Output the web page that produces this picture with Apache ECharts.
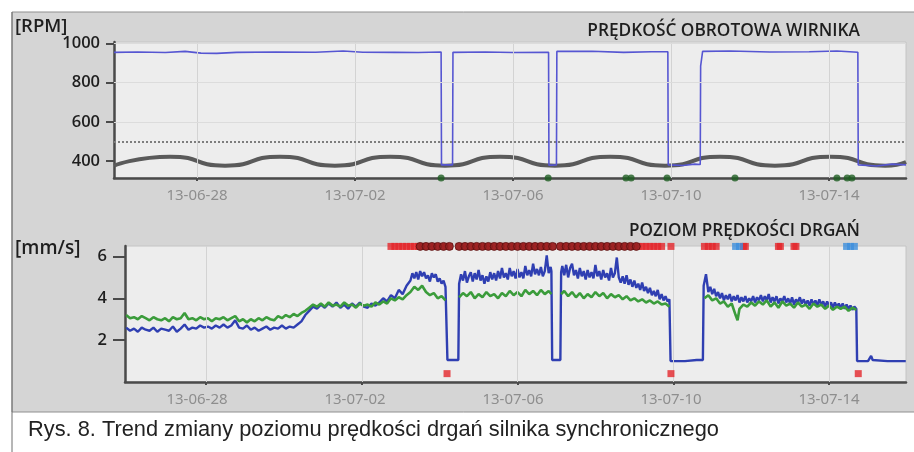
<!DOCTYPE html>
<html><head><meta charset="utf-8">
<script src="https://cdn.jsdelivr.net/npm/echarts@6/dist/echarts.min.js"></script>
<style>html,body{margin:0;padding:0;background:#fff}#c{width:914px;height:452px}</style>
</head><body><div id="c"></div>
<script>
// ---- data (x = days since 2013-06-28 00:00) ----
const xTickDays = [0, 4, 8, 12, 16];
const xTickLabels = ['13-06-28', '13-07-02', '13-07-06', '13-07-10', '13-07-14'];
const rpmTicks = [400, 600, 800, 1000];
const vibTicks = [2, 4, 6];
const rpmThreshold = 500;
const rpmSpeed = [[-2.10,955],[-1.5,957],[-0.8,954],[-0.3,960],[0.1,951],[0.5,950],[1.0,955],[2.0,957],[3.0,956],[3.7,962],[4.2,956],[5.0,955],[5.6,954],[6.18,957],[6.19,380],[6.47,380],[6.48,955],[7.3,957],[8.0,954],[8.9,956],[8.91,378],[9.1,380],[9.11,960],[10.0,961],[10.8,955],[11.5,958],[11.92,958],[11.93,380],[12.3,377],[12.6,384],[12.74,382],[12.75,885],[12.79,890],[12.8,960],[13.5,962],[14.5,957],[15.5,958],[16.2,962],[16.73,956],[16.74,380],[17.2,374],[17.6,384],[17.95,380]];
const rpmBreakWave = [[-2.10,376],[-0.68,422],[0.71,376],[2.10,422],[3.49,376],[4.89,422],[6.28,376],[7.67,422],[9.06,376],[10.46,422],[11.85,376],[13.24,422],[14.63,376],[16.03,422],[17.42,376],[17.95,395]];
const rpmEvents = [6.18, 8.89, 10.86, 10.99, 11.90, 13.62, 16.2, 16.46, 16.58];
const vibBlue = [[-2.05,2.6],[-1.95,2.45],[-1.85,2.55],[-1.75,2.4],[-1.65,2.6],[-1.55,2.5],[-1.45,2.45],[-1.35,2.6],[-1.25,2.4],[-1.15,2.55],[-1.05,2.5],[-0.95,2.45],[-0.85,2.65],[-0.75,2.4],[-0.65,2.55],[-0.55,2.75],[-0.45,2.5],[-0.35,2.6],[-0.25,2.55],[-0.15,2.7],[-0.05,2.6],[0.05,2.65],[0.15,2.55],[0.25,2.7],[0.35,2.6],[0.45,2.75],[0.55,2.6],[0.65,2.7],[0.75,2.95],[0.85,2.6],[0.95,2.55],[1.05,2.7],[1.15,2.5],[1.25,2.6],[1.35,2.45],[1.45,2.55],[1.55,2.65],[1.65,2.5],[1.75,2.6],[1.85,2.55],[1.95,2.7],[2.05,2.55],[2.15,2.65],[2.25,2.6],[2.35,2.75],[2.45,2.9],[2.55,3.2],[2.65,3.4],[2.75,3.6],[2.85,3.5],[2.95,3.7],[3.05,3.55],[3.15,3.75],[3.25,3.6],[3.35,3.8],[3.45,3.55],[3.55,3.7],[3.65,3.5],[3.75,3.75],[3.85,3.6],[3.95,3.8],[4.05,3.6],[4.15,3.55],[4.25,3.75],[4.35,3.65],[4.45,3.8],[4.55,4.0],[4.65,3.85],[4.75,4.15],[4.85,4.0],[4.95,4.4],[5.05,4.2],[5.15,4.6],[5.25,4.85],[5.3,5.2],[5.35,4.95],[5.4,5.25],[5.45,4.9],[5.5,5.3],[5.55,5.05],[5.6,5.25],[5.65,4.95],[5.7,5.1],[5.75,4.8],[5.8,5.2],[5.85,5.0],[5.9,5.15],[5.95,4.8],[6.0,4.95],[6.05,4.7],[6.1,4.85],[6.15,4.55],[6.19,4.5],[6.2,1.05],[6.48,1.05],[6.5,4.7],[6.55,5.15],[6.6,4.85],[6.65,5.3],[6.7,4.75],[6.75,5.05],[6.8,5.25],[6.85,4.8],[6.9,5.2],[6.95,4.9],[7.0,5.35],[7.05,4.85],[7.1,5.1],[7.15,4.7],[7.2,5.05],[7.25,4.8],[7.3,5.25],[7.35,4.9],[7.4,5.2],[7.45,4.85],[7.5,5.3],[7.55,4.95],[7.6,5.45],[7.65,5.0],[7.7,5.2],[7.75,4.9],[7.8,5.45],[7.85,5.05],[7.9,5.3],[7.95,4.95],[8.0,5.4],[8.05,5.0],[8.1,5.25],[8.15,4.95],[8.2,5.55],[8.25,5.1],[8.3,5.35],[8.35,5.05],[8.4,5.65],[8.45,5.15],[8.5,5.4],[8.55,5.1],[8.6,5.5],[8.65,5.05],[8.7,5.3],[8.75,6.05],[8.8,5.2],[8.85,5.5],[8.87,5.3],[8.89,1.05],[9.1,1.05],[9.12,5.25],[9.15,5.55],[9.2,5.1],[9.25,5.6],[9.3,5.0],[9.35,5.45],[9.4,5.65],[9.45,5.1],[9.5,5.35],[9.55,4.95],[9.6,5.45],[9.65,5.05],[9.7,5.3],[9.75,4.9],[9.8,5.35],[9.85,5.0],[9.9,5.25],[9.95,4.95],[10.0,5.6],[10.05,5.05],[10.1,5.3],[10.15,4.9],[10.2,5.35],[10.25,5.0],[10.3,5.2],[10.35,4.85],[10.4,5.45],[10.45,5.0],[10.5,5.2],[10.55,5.95],[10.6,5.0],[10.65,4.75],[10.7,5.05],[10.75,4.7],[10.8,5.1],[10.85,4.65],[10.9,4.9],[10.95,4.55],[11.0,4.85],[11.05,4.5],[11.1,4.7],[11.15,4.4],[11.2,4.75],[11.25,4.35],[11.3,4.55],[11.35,4.25],[11.4,4.5],[11.45,4.15],[11.5,4.35],[11.55,4.1],[11.6,4.4],[11.65,3.95],[11.7,4.2],[11.75,3.9],[11.8,4.1],[11.85,3.85],[11.9,3.95],[11.93,1.0],[12.3,1.0],[12.6,1.05],[12.76,1.05],[12.78,4.6],[12.84,5.15],[12.9,4.3],[12.95,4.55],[13.0,4.2],[13.05,4.45],[13.1,4.1],[13.15,4.3],[13.2,4.0],[13.25,4.25],[13.3,3.9],[13.35,4.15],[13.4,3.95],[13.45,4.2],[13.5,3.85],[13.55,4.1],[13.6,3.9],[13.65,4.15],[13.7,3.8],[13.75,4.05],[13.8,3.85],[13.85,4.1],[13.9,3.8],[13.95,4.0],[14.0,3.85],[14.05,4.1],[14.1,3.8],[14.15,4.05],[14.2,3.9],[14.25,4.15],[14.3,3.85],[14.35,4.1],[14.4,3.9],[14.45,4.2],[14.5,3.8],[14.55,4.05],[14.6,3.85],[14.65,4.1],[14.7,3.75],[14.75,4.0],[14.8,3.85],[14.85,4.1],[14.9,3.8],[14.95,4.0],[15.0,3.75],[15.05,4.05],[15.1,3.7],[15.15,3.95],[15.2,3.8],[15.25,4.05],[15.3,3.75],[15.35,3.95],[15.4,3.7],[15.45,3.9],[15.5,3.65],[15.55,3.95],[15.6,3.7],[15.65,3.9],[15.7,3.65],[15.75,3.95],[15.8,3.7],[15.85,3.85],[15.9,3.6],[15.95,3.85],[16.0,3.65],[16.05,3.8],[16.1,3.55],[16.15,3.8],[16.2,3.6],[16.25,3.75],[16.3,3.55],[16.35,3.75],[16.4,3.5],[16.45,3.7],[16.5,3.5],[16.55,3.65],[16.6,3.45],[16.65,3.6],[16.7,3.5],[16.72,1.0],[17.0,1.0],[17.08,1.25],[17.12,1.05],[17.5,1.0],[17.97,1.0]];
const vibGreen = [[-2.05,3.2],[-1.95,3.05],[-1.85,3.1],[-1.75,3.0],[-1.65,3.15],[-1.55,3.05],[-1.45,2.95],[-1.35,3.1],[-1.25,3.0],[-1.15,2.95],[-1.05,3.05],[-0.95,2.9],[-0.85,3.1],[-0.75,3.0],[-0.65,3.05],[-0.55,3.3],[-0.45,3.0],[-0.35,3.05],[-0.25,2.95],[-0.15,3.1],[-0.05,3.0],[0.05,3.05],[0.15,2.9],[0.25,3.05],[0.35,3.0],[0.45,3.1],[0.55,2.95],[0.65,3.05],[0.75,3.15],[0.85,2.9],[0.95,3.0],[1.05,2.85],[1.15,3.0],[1.25,2.9],[1.35,3.05],[1.45,2.95],[1.55,3.1],[1.65,3.0],[1.75,2.95],[1.85,3.15],[1.95,3.05],[2.05,3.2],[2.15,3.1],[2.25,3.25],[2.35,3.15],[2.45,3.3],[2.55,3.4],[2.65,3.55],[2.75,3.7],[2.85,3.6],[2.95,3.75],[3.05,3.6],[3.15,3.8],[3.25,3.65],[3.35,3.7],[3.45,3.6],[3.55,3.8],[3.65,3.65],[3.75,3.7],[3.85,3.55],[3.95,3.75],[4.05,3.65],[4.15,3.7],[4.25,3.6],[4.35,3.8],[4.45,3.7],[4.55,3.85],[4.65,3.75],[4.75,4.0],[4.85,3.9],[4.95,4.05],[5.05,3.95],[5.15,4.15],[5.25,4.3],[5.35,4.55],[5.45,4.4],[5.55,4.6],[5.65,4.3],[5.75,4.15],[5.85,4.25],[5.95,4.0],[6.05,4.1],[6.15,3.9],[6.17,null],[6.5,4.05],[6.6,4.25],[6.7,4.1],[6.8,4.3],[6.9,4.0],[7.0,4.2],[7.1,4.05],[7.2,4.3],[7.3,4.1],[7.4,4.2],[7.5,4.0],[7.6,4.25],[7.7,4.1],[7.8,4.35],[7.9,4.15],[8.0,4.3],[8.1,4.1],[8.2,4.4],[8.3,4.2],[8.4,4.35],[8.5,4.15],[8.6,4.4],[8.7,4.2],[8.8,4.35],[8.87,4.2],[8.9,null],[9.12,4.2],[9.2,4.35],[9.3,4.1],[9.4,4.3],[9.5,4.05],[9.6,4.25],[9.7,4.0],[9.8,4.2],[9.9,4.05],[10.0,4.3],[10.1,4.1],[10.2,4.25],[10.3,4.0],[10.4,4.2],[10.5,4.05],[10.6,4.15],[10.7,3.95],[10.8,4.1],[10.9,3.9],[11.0,4.0],[11.1,3.85],[11.2,3.95],[11.3,3.8],[11.4,3.9],[11.5,3.75],[11.6,3.85],[11.7,3.7],[11.8,3.75],[11.9,3.6],[11.92,null],[12.8,4.0],[12.9,4.15],[13.0,3.9],[13.1,4.0],[13.2,3.75],[13.3,3.85],[13.4,3.6],[13.5,3.75],[13.6,3.2],[13.65,2.95],[13.7,3.5],[13.8,3.7],[13.9,3.6],[14.0,3.8],[14.1,3.65],[14.2,3.85],[14.3,3.7],[14.4,3.9],[14.5,3.6],[14.6,3.8],[14.7,3.55],[14.8,3.85],[14.9,3.65],[15.0,3.75],[15.1,3.55],[15.2,3.8],[15.3,3.6],[15.4,3.7],[15.5,3.5],[15.6,3.75],[15.7,3.6],[15.8,3.7],[15.9,3.5],[16.0,3.65],[16.1,3.45],[16.2,3.6],[16.3,3.5],[16.4,3.6],[16.5,3.4],[16.6,3.55],[16.7,3.45]];
const alarmTopLevel = 6.48;
const alarmBottomLevel = 0.4;
const alarmRed = [4.75,4.85,4.95,5.05,5.15,5.25,5.35,5.45,5.55,5.65,5.75,5.85,5.95,6.05,6.15,6.25,6.5,6.6,6.7,6.8,6.9,7.0,7.1,7.2,7.3,7.4,7.5,7.6,7.7,7.8,7.9,8.0,8.1,8.2,8.3,8.4,8.5,8.6,8.7,8.8,8.9,9.1,9.2,9.3,9.4,9.5,9.6,9.7,9.8,9.9,10.0,10.1,10.2,10.3,10.4,10.5,10.6,10.7,10.8,10.9,11.0,11.1,11.2,11.3,11.4,11.5,11.6,11.7,11.94,12.8,12.9,13.0,13.1,13.8,13.85,14.7,14.75,15.1,15.15];
const alarmDark = [5.5,5.65,5.8,5.95,6.1,6.25,6.5,6.65,6.8,6.95,7.1,7.25,7.4,7.55,7.7,7.85,8.0,8.15,8.3,8.45,8.6,8.75,8.9,9.1,9.25,9.4,9.55,9.7,9.85,10.0,10.15,10.3,10.45,10.6,10.75,10.9,11.05];
const alarmBlue = [13.6, 13.7, 16.45, 16.55, 16.65];
const alarmLow = [6.19, 11.94, 16.75];
const title1 = 'PRĘDKOŚĆ OBROTOWA WIRNIKA';
const title2 = 'POZIOM PRĘDKOŚCI DRGAŃ';
const unit1 = '[RPM]';
const unit2 = '[mm/s]';
const caption = 'Rys. 8. Trend zmiany poziomu prędkości drgań silnika synchronicznego';

// ---- chart ----
const chart = echarts.init(document.getElementById('c'), null, {renderer: 'canvas'});
const AX = '#4a4a4a';
const labelFont = {fontFamily: 'Open Sans', fontWeight: 600, fontSize: 16.5, color: '#1e1e1e'};
const dateLabel = {fontFamily: 'Noto Sans', fontSize: 15, color: '#8e8e8e'};
function fmtDay(v) { const i = xTickDays.indexOf(Math.round(v * 1000) / 1000); return i >= 0 ? xTickLabels[i] : ''; }
const vGrid = {silent: true, symbol: 'none', label: {show: false}, lineStyle: {color: '#d3d3d3', width: 1, type: 'solid'}, data: xTickDays.map(d => ({xAxis: d}))};

function xAxisCfg(grid, min, max, showLabel, showLine) {
  return {
    type: 'value', gridIndex: grid, min: min, max: max,
    axisLine: {show: showLine, onZero: false, lineStyle: {color: AX, width: 2.5}},
    axisTick: {show: showLine, customValues: xTickDays, length: 3, lineStyle: {color: AX, width: 2}},
    axisLabel: {show: showLabel, customValues: xTickDays, formatter: fmtDay, margin: 10, ...dateLabel},
    splitLine: {show: false}
  };
}
function yAxisCfg(grid, min, max, ticks, tickLen, margin) {
  return {
    type: 'value', gridIndex: grid, min: min, max: max,
    axisLine: {show: true, onZero: false, lineStyle: {color: AX, width: 2.5}},
    axisTick: {show: true, customValues: ticks, length: tickLen, lineStyle: {color: AX, width: 2}},
    axisLabel: {customValues: ticks, margin: margin, formatter: v => String(v), ...labelFont},
    splitLine: {show: false}
  };
}

const option = {
  animation: false,
  backgroundColor: '#ffffff',
  graphic: [
    {type: 'rect', z: -10, shape: {x: 12, y: 12, width: 910, height: 400}, style: {fill: '#d5d5d5', stroke: '#8f8f8f', lineWidth: 1}},
    {type: 'line', z: -9, shape: {x1: 12, y1: 12, x2: 12, y2: 452}, style: {stroke: '#6f6f6f', lineWidth: 1}},
    {type: 'text', style: {text: unit1, x: 15, y: 27, textVerticalAlign: 'middle', font: '600 18.5px "Open Sans"', fill: '#1e1e1e'}},
    {type: 'text', style: {text: title1, x: 860, y: 31, textAlign: 'right', textVerticalAlign: 'middle', font: '600 17.3px "Open Sans"', fill: '#1e1e1e'}},
    {type: 'text', style: {text: unit2, x: 15, y: 249, textVerticalAlign: 'middle', font: '600 19px "Open Sans"', fill: '#1e1e1e'}},
    {type: 'text', style: {text: title2, x: 860, y: 231, textAlign: 'right', textVerticalAlign: 'middle', font: '600 17.1px "Open Sans"', fill: '#1e1e1e'}},
    {type: 'text', style: {text: caption, x: 28, y: 430, textVerticalAlign: 'middle', font: '21.8px "Liberation Sans"', fill: '#222'}}
  ],
  grid: [
    {left: 114, top: 42, width: 792, height: 136, show: true, backgroundColor: '#ededed', borderColor: '#c4c4c4', borderWidth: 1},
    {left: 125, top: 246, width: 781, height: 136, show: true, backgroundColor: '#ededed', borderColor: '#c4c4c4', borderWidth: 1},
    {left: 114, top: 246, width: 792, height: 136, show: false}
  ],
  xAxis: [
    xAxisCfg(0, -2.101, 17.949, true, true),
    xAxisCfg(1, -2.080, 17.976, false, true),
    xAxisCfg(2, -2.101, 17.949, true, false)
  ],
  yAxis: [
    yAxisCfg(0, 313, 1008, rpmTicks, 8, 14),
    yAxisCfg(1, 0, 6.5, vibTicks, 12, 18),
    {type: 'value', gridIndex: 2, min: 0, max: 1, show: false}
  ],
  series: [
    {type: 'line', xAxisIndex: 0, yAxisIndex: 0, data: [], markLine: vGrid},
    {type: 'line', xAxisIndex: 0, yAxisIndex: 0, data: [], silent: true,
     markLine: {silent: true, symbol: 'none', label: {show: false}, lineStyle: {color: '#dcdcdc', width: 1, type: 'solid'}, data: rpmTicks.slice(1).map(v => ({yAxis: v}))}},
    {type: 'line', xAxisIndex: 0, yAxisIndex: 0, data: [], silent: true,
     markLine: {silent: true, symbol: 'none', label: {show: false}, lineStyle: {color: '#7d7d7d', width: 2, type: [2, 2]}, data: [{yAxis: rpmThreshold}]}},
    {type: 'line', xAxisIndex: 0, yAxisIndex: 0, data: rpmBreakWave, smooth: 0.6, symbol: 'none', lineStyle: {color: '#5a5a5a', width: 4}, z: 3},
    {type: 'line', xAxisIndex: 0, yAxisIndex: 0, data: rpmSpeed, symbol: 'none', lineStyle: {color: '#5656d2', width: 1.6}, z: 4},
    {type: 'scatter', xAxisIndex: 0, yAxisIndex: 0, clip: false, data: rpmEvents.map(d => [d, 313]), symbol: 'circle', symbolSize: 7, itemStyle: {color: '#1e5e22'}, z: 6},
    {type: 'line', xAxisIndex: 1, yAxisIndex: 1, data: [], markLine: vGrid},
    {type: 'line', xAxisIndex: 1, yAxisIndex: 1, data: vibBlue, symbol: 'none', lineStyle: {color: '#2f3fb2', width: 2.4}, z: 3},
    {type: 'line', xAxisIndex: 1, yAxisIndex: 1, data: vibGreen, symbol: 'none', connectNulls: false, lineStyle: {color: '#3b9c3b', width: 2.6}, z: 4},
    {type: 'scatter', xAxisIndex: 1, yAxisIndex: 1, clip: false, data: alarmRed.map(d => [d, alarmTopLevel]), symbol: 'rect', symbolSize: 7, itemStyle: {color: '#e3262a'}, z: 6},
    {type: 'scatter', xAxisIndex: 1, yAxisIndex: 1, clip: false, data: alarmDark.map(d => [d, alarmTopLevel]), symbol: 'circle', symbolSize: 8, itemStyle: {color: '#8c1f1f', borderColor: '#5a1010', borderWidth: 1}, z: 7},
    {type: 'scatter', xAxisIndex: 1, yAxisIndex: 1, clip: false, data: alarmBlue.map(d => [d, alarmTopLevel]), symbol: 'rect', symbolSize: 7, itemStyle: {color: '#3d8fdc'}, z: 6},
    {type: 'scatter', xAxisIndex: 1, yAxisIndex: 1, clip: false, data: alarmLow.map(d => [d, alarmBottomLevel]), symbol: 'rect', symbolSize: 7, itemStyle: {color: '#e3262a'}, z: 6}
  ]
};
chart.setOption(option);
</script>
</body></html>
